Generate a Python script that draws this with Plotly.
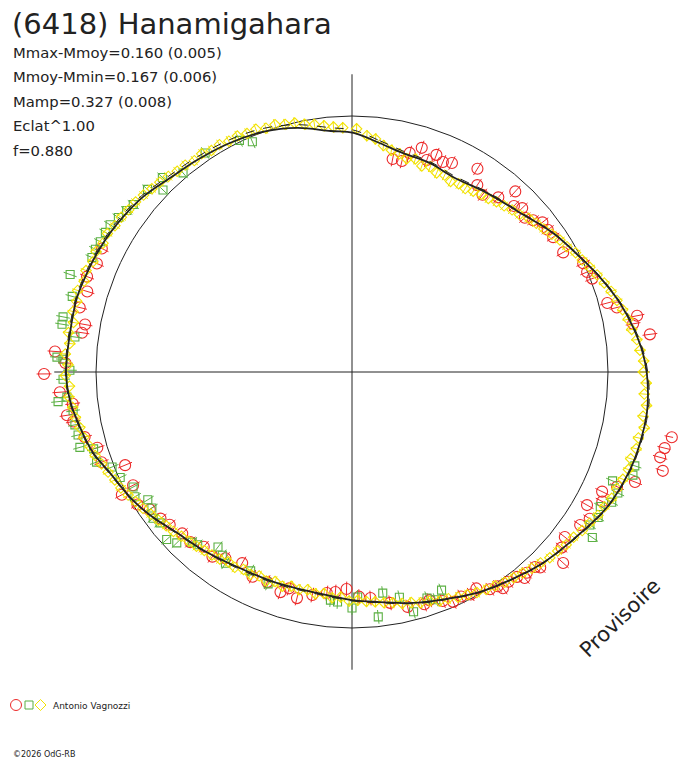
import plotly.graph_objects as go

# courbe de lumiere polaire : phase (0-1) et flux relatif (1 = cercle moyen)
fit_phase = [0.001, 0.019, 0.036, 0.057, 0.076, 0.103, 0.129, 0.154, 0.176, 0.192,
             0.210, 0.225, 0.240, 0.251, 0.263, 0.272, 0.288, 0.304, 0.328, 0.353,
             0.377, 0.397, 0.416, 0.441, 0.459, 0.481, 0.500, 0.528, 0.554, 0.585,
             0.611, 0.632, 0.652, 0.668, 0.687, 0.702, 0.718, 0.734, 0.750, 0.772,
             0.792, 0.807, 0.819, 0.833, 0.845, 0.861, 0.880, 0.899, 0.922, 0.944,
             0.965, 0.986]
fit_flux = [0.934, 0.901, 0.878, 0.871, 0.858, 0.876, 0.904, 0.955, 0.998, 1.037,
            1.081, 1.112, 1.139, 1.152, 1.160, 1.163, 1.159, 1.151, 1.127, 1.084,
            1.052, 1.020, 0.994, 0.955, 0.933, 0.905, 0.891, 0.873, 0.875, 0.884,
            0.907, 0.929, 0.967, 0.995, 1.024, 1.060, 1.084, 1.107, 1.117, 1.112,
            1.113, 1.105, 1.099, 1.090, 1.080, 1.065, 1.039, 1.026, 1.014, 1.000,
            0.977, 0.945]
fit2_flux = [0.945, 0.910, 0.886, 0.876, 0.864, 0.880, 0.907, 0.957, 1.000, 1.040,
             1.084, 1.116, 1.143, 1.156, 1.165, 1.167, 1.163, 1.154, 1.130, 1.087,
             1.054, 1.022, 0.996, 0.958, 0.936, 0.908, 0.894, 0.877, 0.879, 0.888,
             0.910, 0.932, 0.969, 0.997, 1.027, 1.063, 1.087, 1.110, 1.120, 1.116,
             1.117, 1.110, 1.104, 1.096, 1.087, 1.072, 1.048, 1.036, 1.026, 1.013,
             0.990, 0.958]

# Antonio Vagnozzi - session 1 (cercles rouges)
red_phase = [0.030, 0.037, 0.041, 0.048, 0.054, 0.059, 0.065, 0.071, 0.088, 0.094,
             0.101, 0.111, 0.117, 0.123, 0.128, 0.134, 0.139, 0.144, 0.150, 0.156,
             0.168, 0.180, 0.186, 0.191, 0.208, 0.212, 0.219, 0.223, 0.230, 0.282,
             0.288, 0.293, 0.299, 0.309, 0.315, 0.321, 0.326, 0.332, 0.338, 0.344,
             0.355, 0.361, 0.367, 0.378, 0.380, 0.386, 0.389, 0.392, 0.398, 0.403,
             0.405, 0.410, 0.417, 0.422, 0.428, 0.434, 0.440, 0.448, 0.452, 0.463,
             0.474, 0.487, 0.495, 0.504, 0.512, 0.518, 0.528, 0.538, 0.545, 0.550,
             0.561, 0.572, 0.583, 0.595, 0.603, 0.612, 0.621, 0.629, 0.639, 0.646,
             0.655, 0.662, 0.672, 0.674, 0.688, 0.695, 0.704, 0.712, 0.722, 0.726,
             0.732, 0.739, 0.749, 0.755, 0.761, 0.773, 0.778, 0.787, 0.797, 0.805,
             0.814, 0.823]
red_flux = [0.847, 0.847, 0.885, 0.917, 0.878, 0.910, 0.894, 0.905, 0.933, 0.879,
            0.860, 0.890, 0.951, 0.906, 0.923, 0.905, 0.923, 0.946, 0.945, 0.946,
            0.948, 0.998, 0.998, 1.007, 1.033, 1.065, 1.135, 1.114, 1.173, 1.275,
            1.257, 1.249, 1.274, 1.186, 1.128, 1.083, 1.101, 1.055, 1.091, 1.073,
            1.052, 1.068, 1.112, 1.060, 1.045, 1.040, 1.050, 1.028, 1.022, 1.030,
            1.012, 1.005, 0.975, 0.985, 0.975, 0.981, 0.962, 0.941, 0.950, 0.943,
            0.914, 0.886, 0.878, 0.848, 0.862, 0.869, 0.885, 0.909, 0.880, 0.904,
            0.885, 0.889, 0.861, 0.880, 0.904, 0.895, 0.917, 0.915, 0.929, 0.942,
            0.955, 0.985, 1.019, 0.963, 0.958, 1.040, 1.038, 1.075, 1.106, 1.126,
            1.098, 1.144, 1.203, 1.120, 1.163, 1.066, 1.059, 1.093, 1.081, 1.100,
            1.083, 1.090]
red_err = 0.029

# session 2 (carres verts)
green_phase = [0.301, 0.306, 0.313, 0.318, 0.324, 0.329, 0.335, 0.341, 0.346, 0.438,
               0.444, 0.449, 0.460, 0.467, 0.478, 0.483, 0.496, 0.500, 0.510, 0.515,
               0.560, 0.575, 0.593, 0.598, 0.604, 0.616, 0.620, 0.627, 0.633, 0.644,
               0.649, 0.655, 0.661, 0.667, 0.673, 0.682, 0.690, 0.696, 0.704, 0.707,
               0.714, 0.720, 0.728, 0.734, 0.736, 0.746, 0.751, 0.757, 0.758, 0.770,
               0.776, 0.780, 0.792, 0.803, 0.816, 0.821, 0.826, 0.832, 0.837, 0.843,
               0.849, 0.854, 0.866, 0.872, 0.877, 0.888, 0.906, 0.928, 0.935]
green_flux = [1.164, 1.169, 1.103, 1.141, 1.135, 1.103, 1.117, 1.105, 1.140, 0.921,
              0.948, 0.930, 0.967, 0.899, 0.872, 0.962, 0.879, 0.922, 0.900, 0.895,
              0.890, 0.872, 0.896, 0.877, 0.861, 0.905, 0.912, 0.956, 0.976, 0.954,
              0.964, 0.945, 0.941, 0.978, 0.966, 0.995, 1.008, 1.058, 1.053, 1.103,
              1.098, 1.102, 1.100, 1.154, 1.118, 1.129, 1.102, 1.130, 1.154, 1.091,
              1.148, 1.149, 1.132, 1.165, 1.110, 1.111, 1.107, 1.107, 1.106, 1.094,
              1.083, 1.076, 1.071, 1.025, 1.061, 1.020, 1.030, 1.006, 0.980]
green_err = 0.027

# session 3 (losanges jaunes)
yellow_phase = [0.003, 0.010, 0.016, 0.022, 0.028, 0.034, 0.040, 0.046, 0.052, 0.058,
                0.064, 0.070, 0.076, 0.082, 0.088, 0.094, 0.100, 0.106, 0.112, 0.118,
                0.124, 0.130, 0.136, 0.142, 0.148, 0.154, 0.160, 0.166, 0.172, 0.178,
                0.184, 0.190, 0.196, 0.202, 0.208, 0.214, 0.220, 0.226, 0.232, 0.238,
                0.244, 0.250, 0.256, 0.262, 0.268, 0.274, 0.280, 0.286, 0.292, 0.298,
                0.304, 0.310, 0.316, 0.322, 0.328, 0.334, 0.340, 0.346, 0.352, 0.358,
                0.364, 0.370, 0.376, 0.382, 0.388, 0.394, 0.400, 0.406, 0.412, 0.418,
                0.424, 0.430, 0.436, 0.442, 0.448, 0.454, 0.460, 0.466, 0.472, 0.478,
                0.484, 0.490, 0.496, 0.502, 0.508, 0.514, 0.520, 0.526, 0.532, 0.538,
                0.544, 0.550, 0.556, 0.562, 0.568, 0.574, 0.580, 0.586, 0.592, 0.598,
                0.604, 0.610, 0.616, 0.622, 0.628, 0.634, 0.640, 0.646, 0.652, 0.658,
                0.664, 0.670, 0.676, 0.682, 0.688, 0.694, 0.700, 0.706, 0.712, 0.718,
                0.724, 0.730, 0.736, 0.742, 0.748, 0.754, 0.760, 0.766, 0.772, 0.778,
                0.784, 0.790, 0.796, 0.802, 0.808, 0.814, 0.820, 0.826, 0.832, 0.838,
                0.844, 0.850, 0.856, 0.862, 0.868, 0.874, 0.880, 0.886, 0.892, 0.898,
                0.904, 0.910, 0.916, 0.922, 0.928, 0.934, 0.940, 0.946, 0.952, 0.958,
                0.964, 0.970, 0.976, 0.982, 0.988, 0.994]
yellow_flux = [0.950, 0.925, 0.915, 0.893, 0.880, 0.872, 0.860, 0.868, 0.850, 0.858,
               0.845, 0.850, 0.838, 0.845, 0.842, 0.850, 0.858, 0.862, 0.872, 0.880,
               0.890, 0.898, 0.915, 0.925, 0.935, 0.948, 0.962, 0.972, 0.990, 1.000,
               1.015, 1.030, 1.045, 1.060, 1.072, 1.085, 1.098, 1.105, 1.120, 1.128,
               1.140, 1.138, 1.150, 1.145, 1.158, 1.150, 1.162, 1.148, 1.150, 1.140,
               1.145, 1.138, 1.130, 1.128, 1.118, 1.112, 1.100, 1.092, 1.080, 1.075,
               1.065, 1.060, 1.048, 1.040, 1.030, 1.022, 1.015, 1.005, 0.998, 0.990,
               0.980, 0.972, 0.962, 0.958, 0.945, 0.940, 0.930, 0.925, 0.915, 0.910,
               0.902, 0.898, 0.892, 0.895, 0.880, 0.885, 0.872, 0.878, 0.868, 0.875,
               0.870, 0.880, 0.872, 0.882, 0.875, 0.885, 0.880, 0.890, 0.885, 0.895,
               0.900, 0.905, 0.912, 0.918, 0.925, 0.935, 0.942, 0.952, 0.962, 0.975,
               0.985, 0.998, 1.010, 1.018, 1.030, 1.042, 1.055, 1.065, 1.078, 1.085,
               1.095, 1.100, 1.110, 1.105, 1.120, 1.110, 1.122, 1.108, 1.118, 1.105,
               1.115, 1.110, 1.118, 1.105, 1.112, 1.100, 1.105, 1.095, 1.098, 1.088,
               1.085, 1.078, 1.075, 1.068, 1.060, 1.055, 1.048, 1.040, 1.038, 1.030,
               1.035, 1.025, 1.028, 1.022, 1.025, 1.018, 1.020, 1.010, 1.012, 1.002,
               0.998, 0.985, 0.978, 0.968, 0.960, 0.955]
yellow_err = 0.022

stats_lines = ["Mmax-Mmoy=0.160 (0.005)", "Mmoy-Mmin=0.167 (0.006)",
               "Mamp=0.327 (0.008)", "Eclat^1.00", "f=0.880"]

# la page ajoute une marge de 8 px : la figure fait 672x752 et on decale tout
OFF = 8
W, H = 688 - 2 * OFF, 768 - 2 * OFF
CX, CY = 352 - OFF, 372 - OFF   # centre du diagramme en pixels
R_MAX = 1.28            # flux au bord du domaine polaire
R_PX = 256 * R_MAX      # le cercle moyen fait 256 px de rayon
AXIS_LEN = 1.163

RED, GREEN, YELLOW, INK = '#ec2a2a', '#5bb043', '#f2e200', '#222222'


def px(x):
    return (x - OFF) / W


def py(y):
    return 1 - (y - OFF) / H


def err_segments(phase, flux, err):
    th, rr = [], []
    for p, f in zip(phase, flux):
        th += [p * 360, p * 360, None]
        rr += [f - err, f + err, None]
    return th, rr


fig = go.Figure()

# croix des axes
fig.add_trace(go.Scatterpolar(
    theta=[0, 0, None, 90, 90, None, 180, 180, None, 270, 270],
    r=[0, AXIS_LEN, None, 0, AXIS_LEN, None, 0, AXIS_LEN, None, 0, AXIS_LEN],
    mode='lines', line=dict(color=INK, width=1), hoverinfo='skip'))

for ph, fl, er, col, sym, size in [
        (red_phase, red_flux, red_err, RED, 'circle-open', 11),
        (green_phase, green_flux, green_err, GREEN, 'square-open', 8),
        (yellow_phase, yellow_flux, yellow_err, YELLOW, 'diamond-open', 8)]:
    th, rr = err_segments(ph, fl, er)
    fig.add_trace(go.Scatterpolar(theta=th, r=rr, mode='lines',
                                  line=dict(color=col, width=1), hoverinfo='skip'))
    fig.add_trace(go.Scatterpolar(theta=[p * 360 for p in ph], r=fl, mode='markers',
                                  marker=dict(symbol=sym, size=size, color=col,
                                              line=dict(width=1.1, color=col)),
                                  cliponaxis=False))

# courbes ajustees
fig.add_trace(go.Scatterpolar(theta=[p * 360 for p in fit_phase + fit_phase[:1]],
                              r=fit2_flux + fit2_flux[:1], mode='lines',
                              line=dict(color=INK, width=1, dash='dash', shape='spline')))
fig.add_trace(go.Scatterpolar(theta=[p * 360 for p in fit_phase + fit_phase[:1]],
                              r=fit_flux + fit_flux[:1], mode='lines',
                              line=dict(color=INK, width=1.8, shape='spline')))

annotations = [dict(text="(6418) Hanamigahara", x=px(10), y=py(5), yanchor='top',
                    font=dict(size=29, color=INK))]
for i, s in enumerate(stats_lines):
    annotations.append(dict(text=s, x=px(11), y=py(52 + i * 24.5),
                            font=dict(size=14.8, color=INK)))
annotations.append(dict(text="Antonio Vagnozzi", x=px(51), y=py(706),
                        font=dict(size=9, color=INK)))
annotations.append(dict(text="©2026 OdG-RB", x=px(11), y=py(754),
                        font=dict(size=8, color=INK)))
for a in annotations:
    a.setdefault('yanchor', 'middle')
    a.update(xref='paper', yref='paper', xanchor='left', showarrow=False)
annotations.append(dict(text="Provisoire", x=px(620), y=py(618), xref='paper',
                        yref='paper', xanchor='center', yanchor='middle',
                        showarrow=False, textangle=-44,
                        font=dict(size=21, color=INK)))

# symboles de la legende
shapes = [
    dict(type='circle', x0=px(10.5), x1=px(21.5), y0=py(710.5), y1=py(699.5),
         line=dict(color=RED, width=1)),
    dict(type='rect', x0=px(25), x1=px(33), y0=py(709), y1=py(701),
         line=dict(color=GREEN, width=1)),
    dict(type='path', path=f"M {px(35)},{py(705)} L {px(40.5)},{py(699.5)} "
                           f"L {px(46)},{py(705)} L {px(40.5)},{py(710.5)} Z",
         line=dict(color=YELLOW, width=1)),
]
for s in shapes:
    s.update(xref='paper', yref='paper')

fig.update_layout(
    width=W, height=H, margin=dict(l=0, r=0, t=0, b=0),
    paper_bgcolor='white', showlegend=False,
    font=dict(family='DejaVu Sans', color=INK),
    annotations=annotations, shapes=shapes,
    polar=dict(
        domain=dict(x=[(CX - R_PX) / W, (CX + R_PX) / W],
                    y=[1 - (CY + R_PX) / H, 1 - (CY - R_PX) / H]),
        bgcolor='white',
        radialaxis=dict(range=[0, R_MAX], tickvals=[1.0], showticklabels=False,
                        ticks='', showline=False, gridcolor=INK, gridwidth=1),
        angularaxis=dict(rotation=90, direction='clockwise', showgrid=False,
                         showline=False, showticklabels=False, ticks=''),
    ),
)

fig.write_html("out.html")
